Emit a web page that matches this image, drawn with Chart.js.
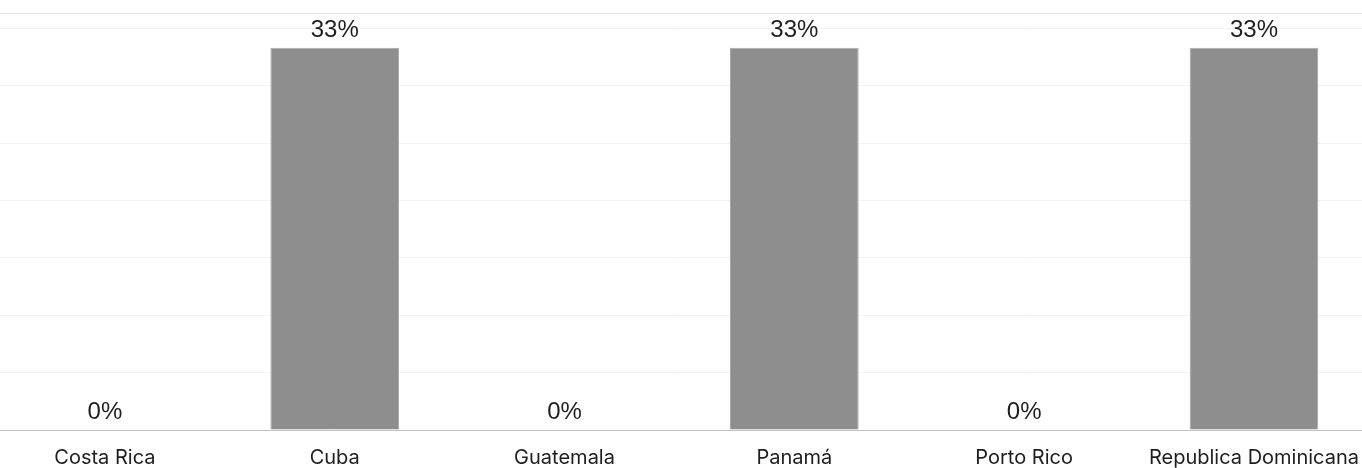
<!DOCTYPE html>
<html>
<head>
<meta charset="utf-8">
<script src="https://cdn.jsdelivr.net/npm/chart.js@4"></script>
<style>
  html, body { margin: 0; padding: 0; background: #fff; }
  .chart-wrap { width: 1362px; height: 468px; overflow: hidden; position: relative; }
  #country-chart { position: absolute; left: -10px; top: 0; }
</style>
</head>
<body>
<div class="chart-wrap">
  <canvas id="country-chart" width="1385" height="468"></canvas>
</div>
<script>
const countries = ['Costa Rica', 'Cuba', 'Guatemala', 'Panamá', 'Porto Rico', 'Republica Dominicana'];
const shares = [0, 33.33, 0, 33.33, 0, 33.33];
const gridTicks = [0, 5, 10, 15, 20, 25, 30, 35];
const axisMax = 36.35;

// draws the "33%" / "0%" above each bar
const valueLabels = {
  id: 'valueLabels',
  afterDatasetsDraw(chart) {
    const ctx = chart.ctx;
    const meta = chart.getDatasetMeta(0);
    ctx.save();
    ctx.font = '24px "Liberation Sans", Arial, sans-serif';
    ctx.fillStyle = '#1e1e1e';
    ctx.textAlign = 'center';
    ctx.textBaseline = 'alphabetic';
    meta.data.forEach((bar, i) => {
      ctx.fillText(Math.round(shares[i]) + '%', bar.x, bar.y - 11);
    });
    ctx.restore();
  }
};

const ctx = document.getElementById('country-chart').getContext('2d');
new Chart(ctx, {
  type: 'bar',
  data: {
    labels: countries,
    datasets: [{
      data: shares,
      backgroundColor: '#8e8e8e',
      borderColor: '#a9a9a9',
      borderWidth: 1,
      categoryPercentage: 0.8,
      barPercentage: 0.7
    }]
  },
  options: {
    responsive: false,
    animation: false,
    layout: { padding: { top: 13, left: 0, right: 0, bottom: -18 } },
    scales: {
      x: {
        grid: { display: false, drawTicks: false },
        border: { color: '#c4c4c4', width: 1 },
        ticks: {
          color: '#1e1e1e',
          padding: 16,
          font: { family: 'Inter, "Liberation Sans", sans-serif', size: 20 }
        }
      },
      y: {
        min: 0,
        max: axisMax,
        afterBuildTicks: (scale) => {
          scale.ticks = gridTicks.concat([axisMax]).map(v => ({ value: v }));
        },
        ticks: { display: false },
        border: { display: false },
        grid: {
          drawTicks: false,
          color: (c) => (c.tick && c.tick.value === axisMax ? '#e6e6e6' : '#f3f3f3')
        }
      }
    },
    plugins: {
      legend: { display: false },
      tooltip: { enabled: false }
    }
  },
  plugins: [valueLabels]
});
</script>
</body>
</html>
